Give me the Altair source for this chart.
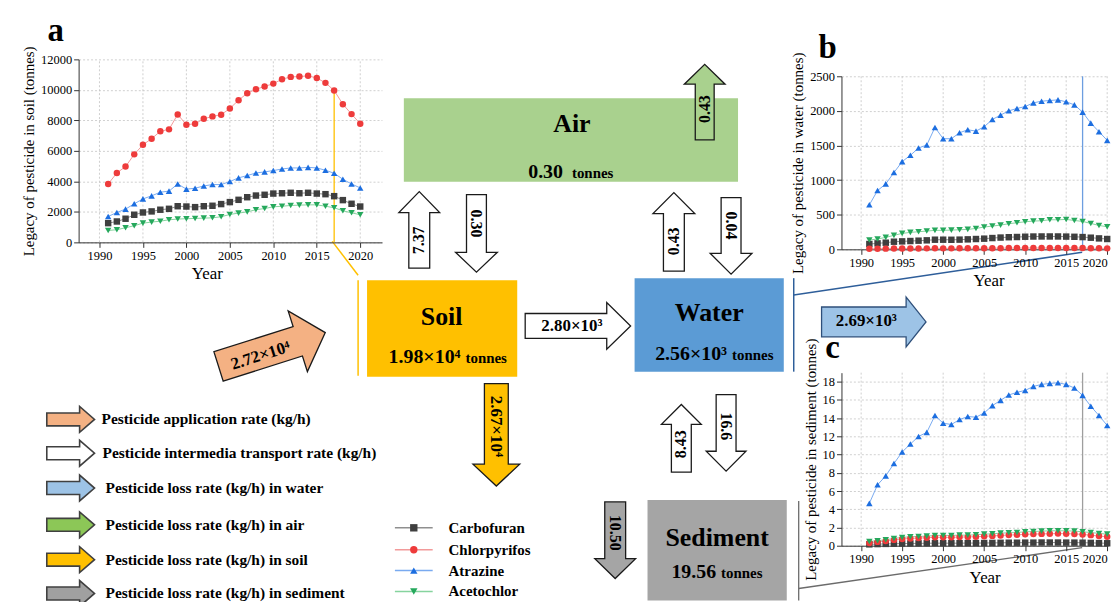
import math
import altair as alt
import pandas as pd

SERIF = "'Liberation Serif', 'Times New Roman', 'DejaVu Serif', serif"
OFF = 8  # page margin: diagram coordinates are given in page pixels

# ---------------- data ----------------
years = list(range(1991, 2021))
chems = ["Carbofuran", "Chlorpyrifos", "Atrazine", "Acetochlor"]
shapes = ["square", "circle", "triangle-up", "triangle-down"]
marker_colors = ["#3f3f3f", "#ee3b3b", "#1c6ee0", "#25a85c"]
line_colors = ["#8f8f8f", "#f29a9a", "#79aaf0", "#86d49e"]

soil_carbofuran = [1260, 1370, 1550, 1810, 1960, 2030, 2140, 2200, 2370, 2350, 2310, 2370, 2400, 2510, 2640,
                   2790, 2960, 3070, 3120, 3200, 3220, 3250, 3220, 3250, 3200, 3160, 3030, 2770, 2530, 2350]
soil_chlorpyrifos = [3830, 4550, 4970, 5770, 6400, 6800, 7280, 7410, 8390, 7710, 7780, 8100, 8260, 8370, 8780,
                     9320, 9780, 10040, 10220, 10410, 10700, 10850, 10870, 10920, 10780, 10460, 9960, 9060, 8410, 7780]
soil_atrazine = [1700, 1960, 2180, 2530, 2850, 3050, 3290, 3360, 3830, 3490, 3550, 3700, 3790, 3790, 3990,
                 4230, 4380, 4550, 4620, 4710, 4810, 4880, 4880, 4920, 4880, 4730, 4530, 4140, 3830, 3570]
soil_acetochlor = [780, 830, 960, 1090, 1260, 1330, 1390, 1480, 1530, 1550, 1570, 1590, 1610, 1680, 1830,
                   1920, 2000, 2140, 2220, 2330, 2370, 2420, 2440, 2460, 2460, 2370, 2270, 2070, 1940, 1810]

water_carbofuran = [77, 86, 96, 110, 115, 120, 125, 130, 139, 139, 138, 140, 144, 149, 154,
                    163, 170, 175, 178, 182, 185, 186, 186, 186, 184, 181, 177, 168, 158, 149]
water_chlorpyrifos = [8, 9, 10, 11, 12, 13, 13, 14, 15, 14, 14, 15, 15, 15, 16,
                      17, 17, 18, 18, 18, 19, 19, 19, 19, 19, 18, 18, 16, 15, 14]
water_atrazine = [643, 849, 945, 1109, 1267, 1358, 1464, 1507, 1761, 1598, 1598, 1684, 1727, 1708, 1771,
                  1876, 1939, 2001, 2035, 2063, 2116, 2140, 2150, 2159, 2131, 2087, 1982, 1823, 1699, 1574]
water_acetochlor = [134, 149, 173, 202, 230, 245, 254, 264, 274, 274, 278, 283, 288, 302, 322,
                    336, 350, 370, 384, 398, 408, 413, 427, 427, 432, 417, 403, 374, 345, 326]

sed_carbofuran = [0.15, 0.18, 0.20, 0.22, 0.24, 0.25, 0.26, 0.27, 0.28, 0.28, 0.28, 0.28, 0.29, 0.29, 0.30,
                  0.31, 0.32, 0.33, 0.33, 0.34, 0.34, 0.35, 0.35, 0.35, 0.34, 0.34, 0.33, 0.31, 0.29, 0.27]
sed_chlorpyrifos = [0.30, 0.42, 0.52, 0.64, 0.74, 0.80, 0.84, 0.87, 0.94, 0.92, 0.92, 0.95, 0.97, 0.99, 1.04,
                    1.08, 1.13, 1.17, 1.20, 1.25, 1.28, 1.30, 1.32, 1.33, 1.32, 1.29, 1.24, 1.16, 1.06, 0.98]
sed_atrazine = [4.65, 6.69, 7.67, 9.02, 10.29, 11.16, 12.00, 12.44, 14.29, 13.45, 13.31, 13.85, 14.18, 14.11, 14.58,
                15.38, 15.96, 16.55, 16.84, 17.05, 17.49, 17.71, 17.82, 17.89, 17.71, 17.31, 16.51, 15.31, 14.29, 13.20]
sed_acetochlor = [0.47, 0.55, 0.65, 0.80, 0.91, 0.98, 1.02, 1.05, 1.13, 1.13, 1.13, 1.16, 1.16, 1.20, 1.27,
                  1.31, 1.38, 1.42, 1.45, 1.53, 1.56, 1.60, 1.64, 1.64, 1.64, 1.60, 1.53, 1.45, 1.35, 1.27]

x_ticks = [1990, 1995, 2000, 2005, 2010, 2015, 2020]
soil_ticks = [0, 2000, 4000, 6000, 8000, 10000, 12000]
water_ticks = [0, 500, 1000, 1500, 2000, 2500]
sed_ticks = [0, 2, 4, 6, 8, 10, 12, 14, 16, 18]

# diagram values
box_names = ["Air", "Soil", "Water", "Sediment"]
box_amounts = ["0.30", "1.98×10⁴", "2.56×10³", "19.56"]
box_colors = ["#A9D18E", "#FFC000", "#5B9BD5", "#A5A5A5"]
flow_labels = ["2.72×10⁴", "2.80×10³", "7.37", "0.30", "0.43", "0.04", "0.43",
               "2.69×10³", "2.67×10⁴", "8.43", "16.6", "10.50"]
flow_fills = ["#F4B183", "#FFFFFF", "#FFFFFF", "#FFFFFF", "#FFFFFF", "#FFFFFF", "#A9D18E",
              "#9DC3E6", "#FFC000", "#FFFFFF", "#FFFFFF", "#A5A5A5"]
legend_texts = ["Pesticide application rate (kg/h)", "Pesticide intermedia transport rate (kg/h)",
                "Pesticide loss rate (kg/h) in water", "Pesticide loss rate (kg/h) in air",
                "Pesticide loss rate (kg/h) in soil", "Pesticide loss rate (kg/h) in sediment"]
legend_fills = ["#F4B183", "#FFFFFF", "#9DC3E6", "#8CC757", "#FFC000", "#A0A0A0"]

# ---------------- line panels ----------------
AXIS = dict(labelFont=SERIF, labelFontSize=12.5, labelColor="black", titleFont=SERIF,
            titleFontWeight="normal", titleColor="black", domainColor="#333333",
            tickColor="#333333", tickSize=5, labelPadding=2, gridColor="#c4c4c4",
            gridDash=[2, 2], gridWidth=0.8)


def long_df(series):
    rows = []
    for chem, vals in zip(chems, series):
        for yr, v in zip(years, vals):
            rows.append({"year": yr, "chem": chem, "value": v})
    return pd.DataFrame(rows)


def panel(series, xdom, xrange, ydom, yrange, yticks, ytitle, w, h, rule_top, rule_color, title_x):
    df = long_df(series)
    xs = dict(domain=xdom, nice=False, zero=False)
    if xrange is not None:
        xs["range"] = xrange
    x = alt.X("year:Q", scale=alt.Scale(**xs),
              axis=alt.Axis(values=x_ticks, format="d", title="Year", titleX=title_x,
                            titleFontSize=17, grid=False, **AXIS))
    y = alt.Y("value:Q", scale=alt.Scale(domain=ydom, range=yrange, nice=False, zero=False),
              axis=alt.Axis(values=yticks, format="d", title=ytitle, titleFontSize=15, **AXIS))
    vgrid = alt.Chart(pd.DataFrame({"year": x_ticks, "value": [ydom[0]] * len(x_ticks),
                                    "value2": [ydom[1]] * len(x_ticks)})).mark_rule(
        color="#c4c4c4", strokeWidth=0.8, strokeDash=[2, 2]).encode(x=x, y=y, y2="value2:Q")
    base = alt.Chart(df)
    lines = base.mark_line(strokeWidth=1).encode(
        x=x, y=y,
        stroke=alt.Stroke("chem:N", scale=alt.Scale(domain=chems, range=line_colors), legend=None))
    rule = alt.Chart(pd.DataFrame({"year": [2017], "value": [0], "value2": [rule_top]})).mark_rule(
        color=rule_color, strokeWidth=1.3).encode(x=x, y=y, y2="value2:Q")
    pts = base.mark_point(filled=True, size=42, opacity=1).encode(
        x=x, y=y,
        fill=alt.Fill("chem:N", scale=alt.Scale(domain=chems, range=marker_colors), legend=None),
        shape=alt.Shape("chem:N", scale=alt.Scale(domain=chems, range=shapes), legend=None))
    return alt.layer(vgrid, lines, rule, pts).properties(width=w, height=h)


chart_a = panel([soil_carbofuran, soil_chlorpyrifos, soil_atrazine, soil_acetochlor],
                [1987.6, 2022.5], [0, 305], [0, 12000], [234, 50], soil_ticks,
                "Legacy of pesticide in soil (tonnes)", 767, 234, 9960, "#FFC000", 129)
chart_b = panel([water_carbofuran, water_chlorpyrifos, water_atrazine, water_acetochlor],
                [1987.6, 2020.1], None, [0, 2500], [241, 67], water_ticks,
                "Legacy of pesticide in water (tonnes)", 268, 241, 2500, "#6d9ee0", 148)
chart_c = panel([sed_carbofuran, sed_chlorpyrifos, sed_atrazine, sed_acetochlor],
                [1987.6, 2020.1], None, [0, 19], [298, 124], sed_ticks,
                "Legacy of pesticide in sediment (tonnes)", 268, 298, 19, "#9e9e9e", 144)

# ---------------- diagram layout (page pixels) ----------------
def P(x, y):
    return [round(x - OFF, 2), round(y - OFF, 2)]


def poly(points, fill, stroke, sw):
    ring = [P(*p) for p in points]
    ring.append(ring[0])
    return {"type": "Feature", "geometry": {"type": "Polygon", "coordinates": [ring]},
            "properties": {"fill": fill, "stroke": stroke, "sw": sw}}


def line_feat(points, stroke, sw):
    return {"type": "Feature", "geometry": {"type": "LineString", "coordinates": [P(*p) for p in points]},
            "properties": {"stroke": stroke, "sw": sw}}


def arrow_pts(tail, tip, sw, hw, hl):
    tx, ty = tail
    hx, hy = tip
    L = math.hypot(hx - tx, hy - ty)
    ux, uy = (hx - tx) / L, (hy - ty) / L
    nx, ny = -uy, ux
    bx, by = hx - ux * hl, hy - uy * hl
    return [(tx + nx * sw / 2, ty + ny * sw / 2), (bx + nx * sw / 2, by + ny * sw / 2),
            (bx + nx * hw / 2, by + ny * hw / 2), (hx, hy),
            (bx - nx * hw / 2, by - ny * hw / 2), (bx - nx * sw / 2, by - ny * sw / 2),
            (tx - nx * sw / 2, ty - ny * sw / 2)]


box_rects = [(403, 97, 739, 181), (366, 280, 517, 377), (635, 278, 785, 372), (648, 501, 788, 602)]
box_title_pos = [(572, 131), (441, 325), (710, 321), (718, 547)]
box_amount_pos = [(563, 177), (460, 363), (728, 360), (717, 579)]

# tail, tip, stem width, head width, head length, label position, angle, font size, stroke
flow_geom = [
    ((216.7, 366.7), (324, 332.7), 31, 64, 29, (259, 356), 342.4, 17, "#1a1a1a"),
    ((525, 326), (631, 326), 25, 47, 24, (572, 326), 0, 17, "#1a1a1a"),
    ((418.5, 268), (418.5, 191), 21, 41, 21, (418.5, 240), 270, 16, "#1a1a1a"),
    ((476, 194), (476, 272), 20, 42, 20, (476, 223), 90, 16, "#1a1a1a"),
    ((674.5, 271), (674.5, 192), 21, 42, 21, (674.5, 241), 270, 16, "#1a1a1a"),
    ((732, 197), (732, 274), 20, 42, 21, (732, 225), 90, 16, "#1a1a1a"),
    ((705.5, 139), (705.5, 63), 19, 41, 20, (705.5, 108), 270, 16, "#1a1a1a"),
    ((823, 322), (928, 322), 30, 50, 20, (868, 321), 0, 17, "#2E4F7A"),
    ((496, 384), (496, 487), 24, 47, 22, (496, 427), 90, 17, "#1a1a1a"),
    ((682, 473), (682, 405), 20, 40, 20, (682, 445), 270, 16, "#1a1a1a"),
    ((727, 395), (727, 472), 20, 40, 20, (727, 427), 90, 16, "#1a1a1a"),
    ((615.5, 503), (615.5, 580), 21, 41, 20, (615.5, 534), 90, 16, "#1a1a1a"),
]

legend_y = [420, 454, 489, 526, 561, 595]
legend_tx = [99, 100, 103, 103, 103, 103]
chem_legend_y = [529, 551, 572, 593]

connectors = [
    ([(331, 241), (357, 275)], "#FFC000", 1.5),
    ([(357, 280), (357, 376)], "#FFC000", 1.5),
    ([(1085, 252), (795, 295)], "#2E5E9A", 1.5),
    ([(795, 278), (795, 372)], "#2E5E9A", 1.5),
    ([(1085, 549), (800, 590)], "#6b6b6b", 1.3),
    ([(800, 502), (800, 602)], "#6b6b6b", 1.3),
]

# polygons
polys = []
for (x0, y0, x1, y1), col in zip(box_rects, box_colors):
    polys.append(poly([(x0, y0), (x1, y0), (x1, y1), (x0, y1)], col, col, 0))
for g, fill in zip(flow_geom, flow_fills):
    polys.append(poly(arrow_pts(g[0], g[1], g[2], g[3], g[4]), fill, g[8], 1.3))
for yc, fill in zip(legend_y, legend_fills):
    polys.append(poly(arrow_pts((44, yc), (92, yc), 13, 26, 15), fill, "#404040", 1.6))

lines = [line_feat(pts, col, w) for pts, col, w in connectors]
for yc, col in zip(chem_legend_y, line_colors):
    lines.append(line_feat([(394, yc), (432, yc)], col, 1.5))

PROJ = dict(type="identity", scale=1, translate=[0, 0])

geo_polys = alt.Chart(alt.Data(values=polys)).mark_geoshape(clip=False).encode(
    fill=alt.Fill("properties.fill:N", scale=None),
    stroke=alt.Stroke("properties.stroke:N", scale=None),
    strokeWidth=alt.StrokeWidth("properties.sw:Q", scale=None)).project(**PROJ)

geo_lines = alt.Chart(alt.Data(values=lines)).mark_geoshape(filled=False, clip=False).encode(
    stroke=alt.Stroke("properties.stroke:N", scale=None),
    strokeWidth=alt.StrokeWidth("properties.sw:Q", scale=None)).project(**PROJ)


def text_layer(rows, align, baseline):
    df = pd.DataFrame(rows, columns=["text", "px", "py", "size", "angle"])
    df["lon"] = df["px"] - OFF
    df["lat"] = df["py"] - OFF
    return alt.Chart(df).mark_text(font=SERIF, fontWeight="bold", color="black", clip=False,
                                   align=align, baseline=baseline).encode(
        longitude="lon:Q", latitude="lat:Q", text="text:N",
        size=alt.Size("size:Q", scale=None),
        angle=alt.Angle("angle:Q", scale=None)).project(**PROJ)


center_alpha = [(n, x, y, 26, 0) for n, (x, y) in zip(box_names, box_title_pos)]
center_alpha += [("a", 53, 40, 33, 0), ("b", 829, 57, 33, 0), ("c", 834, 358, 33, 0)]
right_alpha = [(a, x, y, 20, 0) for a, (x, y) in zip(box_amounts, box_amount_pos)]
left_alpha = [("tonnes", x + (9 if i == 0 else 5), y, 15, 0) for i, (x, y) in enumerate(box_amount_pos)]
center_mid = [(lab, g[5][0], g[5][1], g[7], g[6]) for lab, g in zip(flow_labels, flow_geom)]
left_mid = [(t, x, y, 15.5, 0) for t, x, y in zip(legend_texts, legend_tx, legend_y)]
left_mid += [(c, 448, y, 15, 0) for c, y in zip(chems, chem_legend_y)]

pts_df = pd.DataFrame({"lon": [413 - OFF] * 4, "lat": [y - OFF for y in chem_legend_y],
                       "color": marker_colors, "shape": shapes})
legend_pts = alt.Chart(pts_df).mark_point(filled=True, opacity=1, size=55, clip=False).encode(
    longitude="lon:Q", latitude="lat:Q",
    fill=alt.Fill("color:N", scale=None),
    shape=alt.Shape("shape:N", scale=None)).project(**PROJ)

diagram = alt.layer(
    geo_polys, geo_lines,
    text_layer(center_alpha, "center", "alphabetic"),
    text_layer(right_alpha, "right", "alphabetic"),
    text_layer(left_alpha, "left", "alphabetic"),
    text_layer(center_mid, "center", "middle"),
    text_layer(left_mid, "left", "middle"),
    legend_pts,
).properties(width=68, height=1)


def spacer():
    return alt.Chart(pd.DataFrame({"v": [0]})).mark_point(opacity=0).properties(width=1, height=1)


chart = alt.concat(diagram, chart_a, chart_b, spacer(), spacer(), chart_c,
                   columns=3, spacing=0).properties(
    bounds="flush", padding=0).configure(font=SERIF).configure_view(stroke=None)

chart.save("out.html", embed_options={"renderer": "svg", "actions": False})
